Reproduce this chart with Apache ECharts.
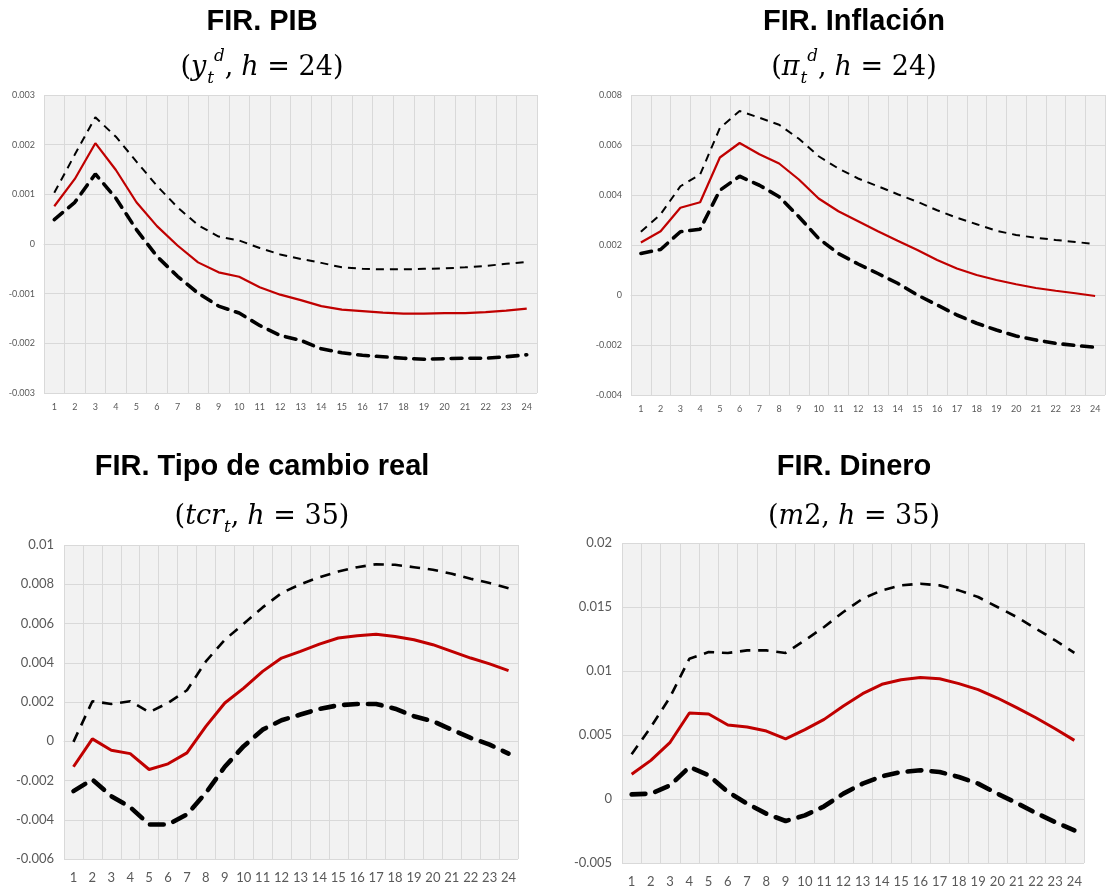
<!DOCTYPE html>
<html>
<head>
<meta charset="utf-8">
<title>FIR</title>
<script src="https://cdn.jsdelivr.net/npm/echarts@6/dist/echarts.min.js"></script>
<style>
  html, body { margin: 0; padding: 0; background: #ffffff; }
  #chart { width: 1109px; height: 888px; }
</style>
</head>
<body>
<div id="chart"></div>
<script>
// Horizon (months after the shock)
const horizon = Array.from({ length: 24 }, (_, i) => String(i + 1));

// FIR. PIB (y_t^d, h = 24)
const pibIrf = [0.00076, 0.00131, 0.00203, 0.00149, 0.00084, 0.00036, -0.00003, -0.00037, -0.00057, -0.00066,
  -0.00087, -0.00102, -0.00113, -0.00125, -0.00132, -0.00135, -0.00138, -0.0014, -0.0014, -0.00139,
  -0.00139, -0.00137, -0.00134, -0.0013];
const pibUpper = [0.00103, 0.0018, 0.00255, 0.00216, 0.00166, 0.00117, 0.00074, 0.00038, 0.00015, 0.00007,
  -0.00008, -0.00021, -0.0003, -0.00038, -0.00047, -0.0005, -0.00051, -0.00051, -0.0005, -0.00049,
  -0.00047, -0.00044, -0.0004, -0.00036];
const pibLower = [0.00049, 0.00084, 0.00141, 0.00092, 0.00029, -0.00025, -0.00065, -0.00099, -0.00125, -0.00139,
  -0.00164, -0.00184, -0.00194, -0.00211, -0.00219, -0.00224, -0.00227, -0.0023, -0.00232, -0.00231,
  -0.0023, -0.0023, -0.00227, -0.00223];

// FIR. Inflación (pi_t^d, h = 24)
const infIrf = [0.0021, 0.00255, 0.00349, 0.00371, 0.0055, 0.00608, 0.00563, 0.00526, 0.00462, 0.00386,
  0.00335, 0.00295, 0.00255, 0.00217, 0.0018, 0.0014, 0.00106, 0.0008, 0.0006, 0.00043,
  0.00028, 0.00017, 0.00007, -0.00004];
const infUpper = [0.00253, 0.00323, 0.00435, 0.00482, 0.00668, 0.00736, 0.00709, 0.00681, 0.00625, 0.00555,
  0.00506, 0.00466, 0.00435, 0.00403, 0.00373, 0.00339, 0.00309, 0.00283, 0.00257, 0.0024,
  0.00229, 0.0022, 0.00212, 0.00204];
const infLower = [0.00166, 0.00182, 0.00253, 0.00263, 0.00419, 0.00475, 0.00439, 0.00393, 0.00313, 0.00226,
  0.00166, 0.00124, 0.00086, 0.00047, 0.0, -0.0004, -0.0008, -0.00113, -0.0014, -0.00164,
  -0.0018, -0.00193, -0.00202, -0.00209];

// FIR. Tipo de cambio real (tcr_t, h = 35)
const tcrIrf = [-0.0013, 0.00012, -0.00046, -0.00063, -0.00144, -0.00115, -0.00059, 0.00076, 0.00195, 0.00271,
  0.00356, 0.00424, 0.00458, 0.00495, 0.00526, 0.00538, 0.00545, 0.00534, 0.00517, 0.00492,
  0.00458, 0.00424, 0.00394, 0.0036];
const tcrUpper = [-0.00003, 0.00204, 0.0019, 0.00204, 0.00148, 0.00195, 0.0026, 0.00407, 0.00517, 0.00599,
  0.00682, 0.00755, 0.008, 0.00836, 0.00865, 0.00887, 0.00902, 0.00899, 0.00887, 0.00874,
  0.00853, 0.00828, 0.00806, 0.0078];
const tcrLower = [-0.00254, -0.00195, -0.0028, -0.00336, -0.00424, -0.00424, -0.00373, -0.00263, -0.0013, -0.00025,
  0.00059, 0.00107, 0.00136, 0.00165, 0.00183, 0.0019, 0.0019, 0.00166, 0.00127, 0.00102,
  0.00059, 0.00017, -0.00017, -0.00063];

// FIR. Dinero (m2, h = 35)
const m2Irf = [0.00193, 0.00302, 0.00443, 0.00672, 0.00664, 0.00578, 0.00562, 0.00531, 0.00469, 0.00542,
  0.00622, 0.00727, 0.00823, 0.00896, 0.00932, 0.0095, 0.0094, 0.00901, 0.00854, 0.00789,
  0.00714, 0.00635, 0.00549, 0.00458];
const m2Upper = [0.00349, 0.00562, 0.00797, 0.01096, 0.01148, 0.01141, 0.01161, 0.01161, 0.01141, 0.0124,
  0.01344, 0.01461, 0.01565, 0.0163, 0.01669, 0.01682, 0.01669, 0.0163, 0.01578, 0.015,
  0.01422, 0.01331, 0.0124, 0.01141];
const m2Lower = [0.00036, 0.00042, 0.00107, 0.0025, 0.00185, 0.00055, -0.00036, -0.00115, -0.00172, -0.00128,
  -0.00057, 0.00042, 0.0012, 0.00177, 0.00211, 0.00224, 0.00211, 0.00172, 0.0012, 0.00042,
  -0.00031, -0.00109, -0.0018, -0.00245];

// Value axis ranges: [min, max, interval]
const pibAxis = [-0.003, 0.003, 0.001];
const infAxis = [-0.004, 0.008, 0.002];
const tcrAxis = [-0.006, 0.01, 0.002];
const m2Axis = [-0.005, 0.02, 0.005];

const titles = ['FIR. PIB', 'FIR. Inflación', 'FIR. Tipo de cambio real', 'FIR. Dinero'];

const RED = '#c00000';
const GRID_LINE = '#d9d9d9';
const LABEL = '#595959';
const LABEL_FONT = 'Lato, "Open Sans", sans-serif';

// Plot areas of the four panels
const panels = [
  { left: 44, top: 95, width: 493, height: 298, font: 9, ymargin: 9, xmargin: 10, axis: pibAxis,
    data: [pibIrf, pibUpper, pibLower], red: 2.2, up: 2, low: 3.6 },
  { left: 631, top: 95, width: 474, height: 300, font: 9, ymargin: 9, xmargin: 10, axis: infAxis,
    data: [infIrf, infUpper, infLower], red: 2.2, up: 2, low: 3.6 },
  { left: 64, top: 545, width: 454, height: 314, font: 13, ymargin: 10, xmargin: 12, axis: tcrAxis,
    data: [tcrIrf, tcrUpper, tcrLower], red: 3, up: 2.6, low: 4.6 },
  { left: 622, top: 543, width: 462, height: 320, font: 13, ymargin: 10, xmargin: 12, axis: m2Axis,
    data: [m2Irf, m2Upper, m2Lower], red: 3, up: 2.6, low: 4.6 }
];

function tickLabel(v) {
  return String(parseFloat(v.toFixed(4)));
}

const grid = [], xAxis = [], yAxis = [], series = [];
panels.forEach((p, i) => {
  grid.push({ left: p.left, top: p.top, width: p.width, height: p.height,
    show: true, backgroundColor: '#f2f2f2', borderWidth: 0, containLabel: false });
  xAxis.push({ type: 'category', gridIndex: i, data: horizon, boundaryGap: true,
    axisLine: { show: true, lineStyle: { color: GRID_LINE, width: 1 } },
    axisTick: { show: false },
    splitLine: { show: true, lineStyle: { color: GRID_LINE, width: 1 } },
    axisLabel: { color: LABEL, fontSize: p.font, fontFamily: LABEL_FONT, margin: p.xmargin, interval: 0 } });
  yAxis.push({ type: 'value', gridIndex: i, min: p.axis[0], max: p.axis[1], interval: p.axis[2],
    axisLine: { show: false }, axisTick: { show: false },
    splitLine: { show: true, lineStyle: { color: GRID_LINE, width: 1 } },
    axisLabel: { color: LABEL, fontSize: p.font, fontFamily: LABEL_FONT, margin: p.ymargin, formatter: tickLabel } });
  const base = { type: 'line', xAxisIndex: i, yAxisIndex: i, symbol: 'none', silent: true, z: 3 };
  series.push(Object.assign({}, base, { name: 'upper ' + i, data: p.data[1],
    lineStyle: { color: '#000', width: p.up, type: [p.up * 4, p.up * 3] } }));
  series.push(Object.assign({}, base, { name: 'lower ' + i, data: p.data[2],
    lineStyle: { color: '#000', width: p.low, type: [p.low * 3, p.low * 2.2], cap: 'round' } }));
  series.push(Object.assign({}, base, { name: 'irf ' + i, data: p.data[0], z: 4,
    lineStyle: { color: RED, width: p.red } }));
});

// Subtitle formulas laid out piece by piece (italic variables, sub/superscripts)
const MATH_FONT = '"DejaVu Serif", "Liberation Serif", serif';
const measureCtx = document.createElement('canvas').getContext('2d');
function fontOf(part, size) {
  const fs = size * (part.s || 1);
  return (part.it ? 'italic ' : '') + fs + 'px ' + MATH_FONT;
}
function formula(cx, midY, size, parts) {
  const widths = parts.map(pt => {
    measureCtx.font = fontOf(pt, size);
    return measureCtx.measureText(pt.t).width + (pt.gap || 0);
  });
  const total = widths.reduce((a, b) => a + b, 0);
  let x = cx - total / 2;
  const els = [];
  parts.forEach((pt, k) => {
    els.push({ type: 'text', x: x, y: midY + (pt.dy || 0) * size, silent: true,
      style: { text: pt.t, font: fontOf(pt, size), fill: '#000',
        align: 'left', verticalAlign: 'middle', textAlign: 'left', textVerticalAlign: 'middle' } });
    x += widths[k];
  });
  return els;
}
const SUB = { s: 0.62, dy: 0.38, it: true };
const SUP = { s: 0.62, dy: -0.42, it: true };
const graphics = [];
const colCenters = [262, 854];
const titleY = [22, 467];
const formulaY = [68, 517];
titles.forEach((t, i) => {
  graphics.push({ type: 'text', x: colCenters[i % 2], y: titleY[Math.floor(i / 2)], silent: true,
    style: { text: t, font: 'bold 29px "Liberation Sans", Arial, sans-serif', fill: '#000',
      align: 'center', verticalAlign: 'middle', textAlign: 'center', textVerticalAlign: 'middle' } });
});
const fs = 27;
graphics.push(...formula(colCenters[0], formulaY[0], fs, [
  { t: '(' }, { t: 'y', it: true, gap: 1 }, Object.assign({ t: 't' }, SUB), Object.assign({ t: 'd' }, SUP),
  { t: ',', gap: 8 }, { t: 'h', it: true }, { t: ' = ' }, { t: '24' }, { t: ')' }]));
graphics.push(...formula(colCenters[1], formulaY[0], fs, [
  { t: '(' }, { t: 'π', it: true, gap: 1 }, Object.assign({ t: 't' }, SUB), Object.assign({ t: 'd' }, SUP),
  { t: ',', gap: 8 }, { t: 'h', it: true }, { t: ' = ' }, { t: '24' }, { t: ')' }]));
graphics.push(...formula(colCenters[0], formulaY[1], fs, [
  { t: '(' }, { t: 'tcr', it: true }, Object.assign({ t: 't' }, SUB),
  { t: ',', gap: 8 }, { t: 'h', it: true }, { t: ' = ' }, { t: '35' }, { t: ')' }]));
graphics.push(...formula(colCenters[1], formulaY[1], fs, [
  { t: '(' }, { t: 'm', it: true }, { t: '2' },
  { t: ',', gap: 8 }, { t: 'h', it: true }, { t: ' = ' }, { t: '35' }, { t: ')' }]));

const chart = echarts.init(document.getElementById('chart'), null, { renderer: 'canvas' });
chart.setOption({
  animation: false,
  backgroundColor: '#ffffff',
  grid: grid,
  xAxis: xAxis,
  yAxis: yAxis,
  series: series,
  graphic: graphics
});
</script>
</body>
</html>
